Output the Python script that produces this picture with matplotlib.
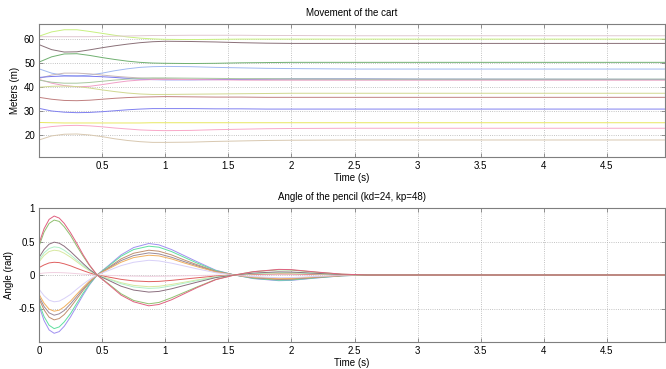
import matplotlib
matplotlib.use("Agg")
import matplotlib.pyplot as plt

plt.rcParams["font.family"] = ["Liberation Sans", "DejaVu Sans"]
plt.rcParams["font.size"] = 7

# ---- cart positions (m) ----
cart_t = [0, 0.1, 0.2, 0.3, 0.4, 0.5, 0.6, 0.7, 0.8, 0.9, 1.0, 1.2, 1.4, 1.6, 1.8, 2.0, 2.5, 3.0, 4.96]

cart_lines = [
    ("#c8f080", [61.2, 63.0, 63.9, 63.9, 63.2, 62.4, 61.6, 60.9, 60.4, 60.1, 59.9, 59.8, 59.9, 60.0, 60.0, 60.0, 60.0, 60.0, 60.0]),
    ("#e0c8d0", [61.0, 61.0, 61.0, 61.0, 61.0, 61.1, 61.2, 61.3, 61.4, 61.5, 61.5, 61.6, 61.6, 61.6, 61.5, 61.5, 61.4, 61.4, 61.4]),
    ("#8a7078", [57.7, 55.6, 54.6, 54.7, 55.5, 56.4, 57.2, 57.9, 58.5, 58.9, 59.1, 59.0, 58.8, 58.5, 58.3, 58.2, 58.2, 58.2, 58.2]),
    ("#70b070", [50.4, 52.6, 53.8, 53.9, 53.2, 52.3, 51.5, 50.8, 50.3, 50.0, 49.9, 49.8, 49.9, 50.1, 50.2, 50.3, 50.3, 50.3, 50.3]),
    ("#a0b8f0", [47.6, 45.8, 44.8, 44.6, 45.0, 45.8, 46.8, 47.6, 48.2, 48.5, 48.6, 48.5, 48.2, 48.0, 47.8, 47.7, 47.5, 47.5, 47.5]),
    ("#c8b8b8", [43.6, 45.0, 45.8, 45.8, 45.5, 45.0, 44.5, 44.1, 43.8, 43.6, 43.5, 43.3, 43.2, 43.1, 43.0, 43.0, 43.0, 43.0, 43.0]),
    ("#7878f0", [44.0, 44.4, 44.6, 44.6, 44.5, 44.3, 44.0, 43.6, 43.3, 43.1, 43.0, 43.0, 43.1, 43.2, 43.3, 43.4, 43.4, 43.3, 43.2]),
    ("#f0a0c8", [43.2, 41.6, 40.6, 40.1, 40.3, 41.0, 41.8, 42.5, 42.9, 43.1, 43.2, 43.1, 43.0, 42.9, 42.9, 42.9, 42.9, 42.9, 42.9]),
    ("#a8c8a0", [42.9, 42.0, 41.6, 41.6, 41.9, 42.4, 42.9, 43.3, 43.6, 43.8, 43.8, 43.7, 43.6, 43.5, 43.5, 43.4, 43.3, 43.3, 43.3]),
    ("#d0d890", [39.9, 40.3, 40.4, 40.2, 39.6, 38.8, 38.1, 37.5, 37.1, 36.9, 36.9, 37.0, 37.1, 37.2, 37.3, 37.4, 37.4, 37.4, 37.4]),
    ("#c08080", [35.7, 34.9, 34.4, 34.3, 34.5, 34.9, 35.3, 35.6, 35.8, 35.9, 36.0, 35.9, 35.8, 35.8, 35.7, 35.7, 35.7, 35.7, 35.7]),
    ("#8080f0", [31.1, 30.0, 29.5, 29.3, 29.4, 29.7, 30.1, 30.5, 30.8, 31.0, 31.0, 31.0, 30.9, 30.9, 30.8, 30.8, 30.8, 30.8, 30.8]),
    ("#e8e860", [25.2, 25.1, 25.0, 25.0, 25.0, 25.0, 25.0, 25.0, 25.0, 25.1, 25.1, 25.1, 25.1, 25.1, 25.1, 25.1, 25.1, 25.1, 25.1]),
    ("#f8a8c8", [22.8, 23.5, 23.9, 24.0, 23.8, 23.4, 22.9, 22.5, 22.1, 21.9, 21.8, 21.9, 22.2, 22.4, 22.6, 22.7, 22.8, 22.8, 22.8]),
    ("#d8c8b0", [17.9, 19.6, 20.3, 20.4, 20.0, 19.3, 18.4, 17.7, 17.2, 16.9, 16.9, 17.0, 17.3, 17.5, 17.7, 17.8, 17.9, 17.9, 17.9]),
]

# ---- pencil angles (rad) ----
ang_t = [0, 0.04, 0.08, 0.12, 0.16, 0.2, 0.25, 0.3, 0.35, 0.4, 0.46, 0.55, 0.65, 0.75, 0.87, 0.95,
         1.05, 1.15, 1.25, 1.4, 1.55, 1.7, 1.9, 2.0, 2.2, 2.4, 2.6, 3.0, 4.96]

ang_lines = [
    ("#a090f0", [-0.46, -0.68, -0.82, -0.87, -0.845, -0.765, -0.625, -0.46, -0.296, -0.148, 0.0, 0.14, 0.30, 0.41, 0.47, 0.45, 0.38, 0.29, 0.20, 0.072, 0.0, -0.054, -0.085, -0.08, -0.044, -0.013, 0.0, 0.0, 0.0]),
    ("#60e0a0", [-0.42, -0.62, -0.75, -0.80, -0.775, -0.70, -0.575, -0.42, -0.27, -0.136, 0.0, 0.13, 0.28, 0.38, 0.43, 0.415, 0.35, 0.265, 0.18, 0.066, 0.0, -0.05, -0.078, -0.074, -0.041, -0.012, 0.0, 0.0, 0.0]),
    ("#c09070", [-0.355, -0.52, -0.63, -0.67, -0.65, -0.59, -0.48, -0.355, -0.228, -0.114, 0.0, 0.11, 0.24, 0.325, 0.37, 0.355, 0.30, 0.225, 0.155, 0.056, 0.0, -0.042, -0.067, -0.063, -0.035, -0.01, 0.0, 0.0, 0.0]),
    ("#9a8a9a", [-0.32, -0.47, -0.565, -0.60, -0.58, -0.53, -0.43, -0.32, -0.204, -0.102, 0.0, 0.10, 0.215, 0.29, 0.33, 0.315, 0.265, 0.20, 0.14, 0.05, 0.0, -0.037, -0.06, -0.057, -0.032, -0.009, 0.0, 0.0, 0.0]),
    ("#f0b060", [-0.286, -0.42, -0.51, -0.54, -0.525, -0.475, -0.39, -0.286, -0.184, -0.092, 0.0, 0.09, 0.19, 0.26, 0.295, 0.285, 0.24, 0.18, 0.125, 0.045, 0.0, -0.034, -0.054, -0.051, -0.028, -0.008, 0.0, 0.0, 0.0]),
    ("#d8d0f8", [-0.21, -0.31, -0.376, -0.40, -0.39, -0.35, -0.29, -0.21, -0.136, -0.068, 0.0, 0.066, 0.14, 0.19, 0.22, 0.21, 0.177, 0.135, 0.093, 0.034, 0.0, -0.025, -0.04, -0.038, -0.021, -0.006, 0.0, 0.0, 0.0]),
    ("#f0d0e0", [0.02, 0.03, 0.035, 0.037, 0.036, 0.033, 0.027, 0.02, 0.013, 0.006, 0.0, -0.006, -0.013, -0.017, -0.02, -0.019, -0.016, -0.012, -0.008, -0.003, 0.0, 0.002, 0.004, 0.003, 0.002, 0.0, 0.0, 0.0, 0.0]),
    ("#e06060", [0.11, 0.15, 0.18, 0.19, 0.185, 0.167, 0.137, 0.10, 0.065, 0.032, 0.0, -0.03, -0.065, -0.088, -0.099, -0.095, -0.08, -0.061, -0.042, -0.015, 0.0, 0.011, 0.018, 0.017, 0.01, 0.003, 0.0, 0.0, 0.0]),
    ("#d8e8a0", [0.196, 0.29, 0.35, 0.37, 0.36, 0.325, 0.266, 0.196, 0.126, 0.063, 0.0, -0.054, -0.115, -0.155, -0.175, -0.168, -0.141, -0.108, -0.074, -0.027, 0.0, 0.019, 0.031, 0.03, 0.017, 0.005, 0.0, 0.0, 0.0]),
    ("#b0f0c8", [0.22, 0.33, 0.395, 0.42, 0.41, 0.37, 0.30, 0.22, 0.143, 0.071, 0.0, -0.062, -0.13, -0.178, -0.2, -0.193, -0.162, -0.123, -0.085, -0.031, 0.0, 0.022, 0.036, 0.034, 0.019, 0.006, 0.0, 0.0, 0.0]),
    ("#8b6f7f", [0.26, 0.38, 0.46, 0.49, 0.475, 0.43, 0.35, 0.26, 0.17, 0.083, 0.0, -0.078, -0.167, -0.225, -0.255, -0.245, -0.206, -0.157, -0.108, -0.039, 0.0, 0.029, 0.047, 0.044, 0.025, 0.007, 0.0, 0.0, 0.0]),
    ("#90c070", [0.43, 0.64, 0.77, 0.82, 0.80, 0.72, 0.59, 0.43, 0.28, 0.14, 0.0, -0.13, -0.28, -0.38, -0.43, -0.41, -0.34, -0.26, -0.18, -0.066, 0.0, 0.05, 0.078, 0.074, 0.041, 0.012, 0.0, 0.0, 0.0]),
    ("#e06080", [0.47, 0.69, 0.83, 0.88, 0.85, 0.77, 0.63, 0.47, 0.30, 0.15, 0.0, -0.14, -0.30, -0.40, -0.46, -0.44, -0.37, -0.28, -0.19, -0.07, 0.0, 0.05, 0.084, 0.08, 0.044, 0.013, 0.0, 0.0, 0.0]),
]

top_xticks = [0.5, 1, 1.5, 2, 2.5, 3, 3.5, 4, 4.5]
bot_xticks = [0, 0.5, 1, 1.5, 2, 2.5, 3, 3.5, 4, 4.5]
top_yticks = [20, 30, 40, 50, 60]
bot_yticks = [-0.5, 0, 0.5, 1]


def style(ax):
    for s in ax.spines.values():
        s.set_color("#7f7f7f")
        s.set_linewidth(0.8)
    ax.tick_params(direction="in", length=3, width=0.6, color="#7f7f7f",
                   top=True, right=True, labelsize=7, pad=3)
    ax.grid(True, linestyle=":", color="#b0b0b0", linewidth=0.6)


fig = plt.figure(figsize=(6.66, 3.69), dpi=100)

ax1 = fig.add_axes([39 / 666, 1 - 157 / 369, 626 / 666, 133 / 369])
for c, v in cart_lines:
    ax1.plot(cart_t, v, color=c, linewidth=0.7)
ax1.set_xlim(0, 4.96)
ax1.set_ylim(10.8, 66.3)
ax1.set_xticks(top_xticks)
ax1.set_xticklabels([f"{x:g}" for x in top_xticks])
ax1.set_yticks(top_yticks)
ax1.set_title("Movement of the cart", fontsize=7, pad=6)
ax1.set_xlabel("Time (s)", fontsize=7, labelpad=1)
ax1.set_ylabel("Meters (m)", fontsize=7, labelpad=3)
style(ax1)

ax2 = fig.add_axes([39 / 666, 1 - 342 / 369, 626 / 666, 134 / 369])
for c, v in ang_lines:
    ax2.plot(ang_t, v, color=c, linewidth=0.7)
ax2.set_xlim(0, 4.96)
ax2.set_ylim(-1, 1)
ax2.set_xticks(bot_xticks)
ax2.set_xticklabels([f"{x:g}" for x in bot_xticks])
ax2.set_yticks(bot_yticks)
ax2.set_yticklabels(["-0.5", "0", "0.5", "1"])
ax2.set_title("Angle of the pencil (kd=24, kp=48)", fontsize=7, pad=6)
ax2.set_xlabel("Time (s)", fontsize=7, labelpad=1)
ax2.set_ylabel("Angle (rad)", fontsize=7, labelpad=3)
style(ax2)

fig.savefig("out.png", dpi=100)
